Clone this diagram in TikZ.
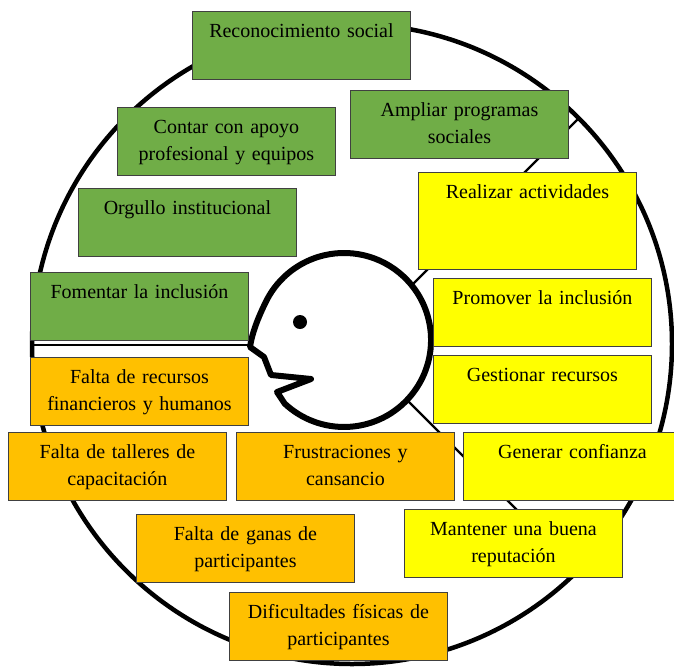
\documentclass[tikz,border=0pt]{standalone}
\usepackage{fontspec}
\setmainfont{Liberation Serif}
\begin{document}
\begin{tikzpicture}[x=1pt,y=-1pt,
  ring/.style={circle, draw=black, line width=4.5pt, minimum size=640pt, inner sep=0pt},
  divider/.style={line width=2.2pt, draw=black},
  headline/.style={line width=6pt, draw=black, fill=white, line join=round},
  card/.style={draw=black!75, line width=0.9pt, rectangle, anchor=north west,
    minimum width=218pt, minimum height=68pt, inner sep=0pt},
  good/.style={card, fill=goodgreen},
  bad/.style={card, fill=badorange},
  act/.style={card, fill=actyellow},
  cardtext/.style={anchor=base, align=center, text width=214pt, inner sep=0pt,
    font=\fontsize{20}{26.8}\selectfont}
]
\definecolor{goodgreen}{HTML}{70AD47}
\definecolor{badorange}{HTML}{FFC000}
\definecolor{actyellow}{HTML}{FFFF00}

\useasboundingbox (0,0) rectangle (674,667);
\begin{scope}
\clip (0,0) rectangle (674,667);

% outer ring
\node[ring] (outer) at (352,344) {};

% points where the dividers meet the ring and the head
\coordinate (ringW)  at (32,345);
\coordinate (ringNE) at (578.8,118.2);
\coordinate (ringSE) at (577.8,570.8);
\coordinate (nose)   at (251,345);
\coordinate (headNE) at (411.7,285.3);
\coordinate (headSE) at (407,400);

\draw[divider] (ringW) -- (nose);
\draw[divider] (headNE) -- (ringNE);
\draw[divider] (headSE) -- (ringSE);

% head in profile
\draw[headline] (311,379) -- (277,392) -- (284.7,403.6)
  arc[start angle=133, end angle=-155, radius=87]
  .. controls (258,318) and (252,333) .. (250,347)
  -- (264,357) -- (271,375) -- cycle;
\fill (300,322) circle[radius=7];

% green boxes
\node[good] (b1) at (192,11) {};
\node[good] (b2) at (350,90) {};
\node[good] (b3) at (117,107) {};
\node[good] (b4) at (78,188) {};
\node[good] (b5) at (30,272) {};
% orange boxes
\node[bad] (b6) at (30,357) {};
\node[bad] (b7) at (8,432) {};
\node[bad] (b8) at (236,432) {};
\node[bad] (b9) at (136,514) {};
\node[bad] (b10) at (229,592) {};
% yellow boxes
\node[act, minimum height=97pt] (b11) at (418,172) {};
\node[act] (b12) at (433,278) {};
\node[act] (b13) at (433,355) {};
\node[act] (b14) at (463,432) {};
\node[act] (b15) at (404,509) {};

% box texts, first baseline a fixed distance below the top edge
\foreach \b/\t in {
  b1/{Reconocimiento social},
  b2/{Ampliar programas\\sociales},
  b3/{Contar con apoyo\\profesional y equipos},
  b4/{Orgullo institucional},
  b5/{Fomentar la inclusión},
  b6/{Falta de recursos\\financieros y humanos},
  b7/{Falta de talleres de\\capacitación},
  b8/{Frustraciones y\\cansancio},
  b9/{Falta de ganas de\\participantes},
  b10/{Dificultades físicas de\\participantes},
  b11/{Realizar actividades},
  b12/{Promover la inclusión},
  b13/{Gestionar recursos},
  b14/{Generar confianza},
  b15/{Mantener una buena\\reputación}}
  \node[cardtext] (\b t) at ([yshift=-26.5pt]\b.north) {\t};
\end{scope}
\end{tikzpicture}
\end{document}
